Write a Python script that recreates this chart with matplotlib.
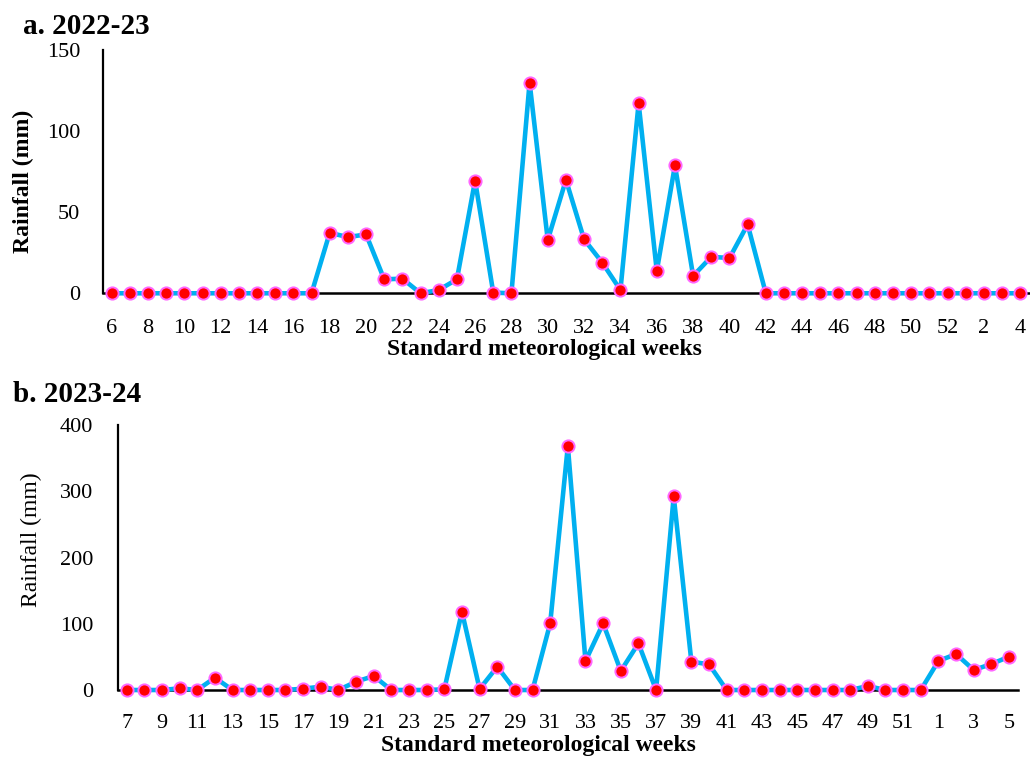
import matplotlib
matplotlib.use("Agg")
import matplotlib.pyplot as plt

plt.rcParams['font.family'] = ['Liberation Serif', 'DejaVu Serif']

# standard meteorological weeks and weekly rainfall (mm)
weeks_a = list(range(6, 53)) + [1, 2, 3, 4]
rain_a = [0, 0, 0, 0, 0, 0, 0, 0, 0, 0, 0, 0,
          37.3, 34.6, 36.3, 8.6, 9.0, 0, 2.0, 8.6, 69.5, 0.4, 0,
          129.9, 32.8, 69.9, 33.2, 18.9, 2.0, 117.2, 13.7, 78.9, 10.7,
          22.5, 21.7, 42.4,
          0, 0, 0, 0, 0, 0, 0, 0, 0, 0, 0,
          0, 0, 0, 0]

weeks_b = list(range(7, 53)) + [1, 2, 3, 4, 5]
rain_b = [0, 0, 0, 2.5, 0, 18.6, 0, 0, 0, 0, 2.0, 5.0, 0, 12.6, 21.1,
          0, 0, 0, 1.0, 118.2, 1.5, 35.2, 0, 0, 100.6, 368.3, 43.8,
          100.6, 28.7, 70.4, 0, 292.3, 42.8, 38.7,
          0, 0, 0, 0, 0, 0, 0, 0, 6.0, 0, 0, 0,
          43.8, 54.3, 30.2, 39.2, 50.3]

yticks_a = [0, 50, 100, 150]
yticks_b = [0, 100, 200, 300, 400]

fig = plt.figure(figsize=(10.30, 7.58), dpi=100)
ax1 = fig.add_axes([0.0996, 0.6131, 0.8997, 0.3210])
ax2 = fig.add_axes([0.1144, 0.0897, 0.8738, 0.3496])


def draw(ax, weeks, rain, yticks, ylab_bold, xpad, ypad, ylab_xy, xlab_xy):
    x = list(range(len(weeks)))
    ax.plot(x, rain, color='#00B0F0', lw=3.3, marker='o', ms=8.8,
            mfc='#FF0000', mec='#FF66FF', mew=1.4, clip_on=False, zorder=3)
    ax.set_xlim(-0.5, len(weeks) - 0.5)
    ax.set_ylim(yticks[0], yticks[-1])
    ax.set_yticks(yticks)
    ax.set_xticks(x[::2])
    ax.set_xticklabels([str(w) for w in weeks[::2]])
    ax.tick_params(axis='x', length=0, pad=xpad, labelsize=16)
    ax.tick_params(axis='y', length=0, pad=ypad, labelsize=16)
    for s in ['top', 'right']:
        ax.spines[s].set_visible(False)
    ax.spines['left'].set_linewidth(1.6)
    ax.spines['bottom'].set_linewidth(1.8)
    ax.set_xlabel('Standard meteorological weeks', fontsize=17, fontweight='bold')
    ax.xaxis.set_label_coords(*xlab_xy)
    ax.set_ylabel('Rainfall (mm)', fontsize=17,
                  fontweight='bold' if ylab_bold else 'normal')
    ax.yaxis.set_label_coords(*ylab_xy)


draw(ax1, weeks_a, rain_a, yticks_a, True, 18.5, 16, (-0.0736, 0.4615), (0.477, -0.188))
draw(ax2, weeks_b, rain_b, yticks_b, False, 17.5, 17.6, (-0.0842, 0.566), (0.467, -0.170))

fig.text(0.022, 0.955, 'a. 2022-23', fontsize=21, fontweight='bold', va='baseline')
fig.text(0.0123, 0.4697, 'b. 2023-24', fontsize=21, fontweight='bold', va='baseline')

fig.savefig('out.png', dpi=100)
